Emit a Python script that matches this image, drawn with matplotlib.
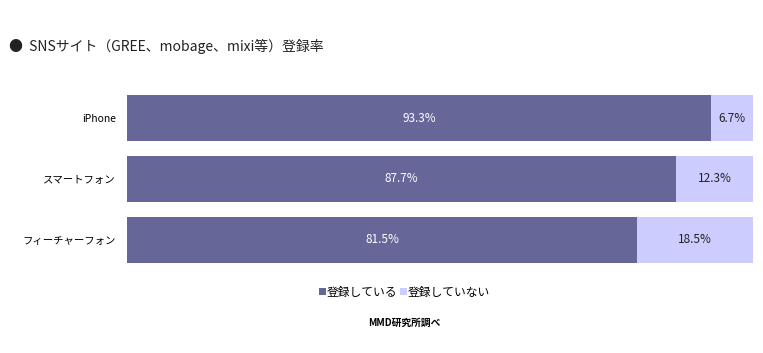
import matplotlib
matplotlib.use("Agg")
from matplotlib import pyplot as plt

plt.rcParams['font.family'] = ['Noto Sans CJK JP', 'DejaVu Sans']

kategorije = ["iPhone", "スマートフォン", "フィーチャーフォン"]
registrirani = [93.3, 87.7, 81.5]
neregistrirani = [6.7, 12.3, 18.5]
serije = ["登録している", "登録していない"]

fig = plt.figure(figsize=(7.63, 3.53), dpi=100)
ax = fig.add_axes([0.1664, 0.255, 0.8205, 0.476])

y = range(len(kategorije))
b1 = ax.barh(y, registrirani, height=0.76, color="#666699", label=serije[0])
b2 = ax.barh(y, neregistrirani, left=registrirani, height=0.76, color="#ccccff", label=serije[1])

# Oznake v stolpcih
for i in y:
    ax.text(registrirani[i] / 2, i, "{}%".format(registrirani[i]), ha="center", va="center",
            color="white", fontsize=8.5)
    ax.text(registrirani[i] + neregistrirani[i] / 2, i, "{}%".format(neregistrirani[i]),
            ha="center", va="center", color="#222222", fontsize=8.5)

ax.set_xlim(0, 100)
ax.set_ylim(2.38, -0.38)
ax.set_yticks(list(y))
ax.set_yticklabels(kategorije, fontsize=7.5)
ax.set_xticks([])
ax.tick_params(axis="y", length=0, pad=8)
for s in ax.spines.values():
    s.set_visible(False)

fig.text(0.012, 0.868, "●  SNSサイト（GREE、mobage、mixi等）登録率", fontsize=10,
         ha="left", va="center", color="#222222")

fig.legend(handles=[b1, b2], loc="center", bbox_to_anchor=(0.53, 0.172), ncol=2,
           frameon=False, fontsize=8.5, handlelength=0.6, handleheight=0.6,
           handletextpad=0.1, columnspacing=0.2)

fig.text(0.53, 0.085, "MMD研究所調べ", fontsize=7, fontweight="bold",
         ha="center", va="center")

fig.savefig("out.png", dpi=100)
